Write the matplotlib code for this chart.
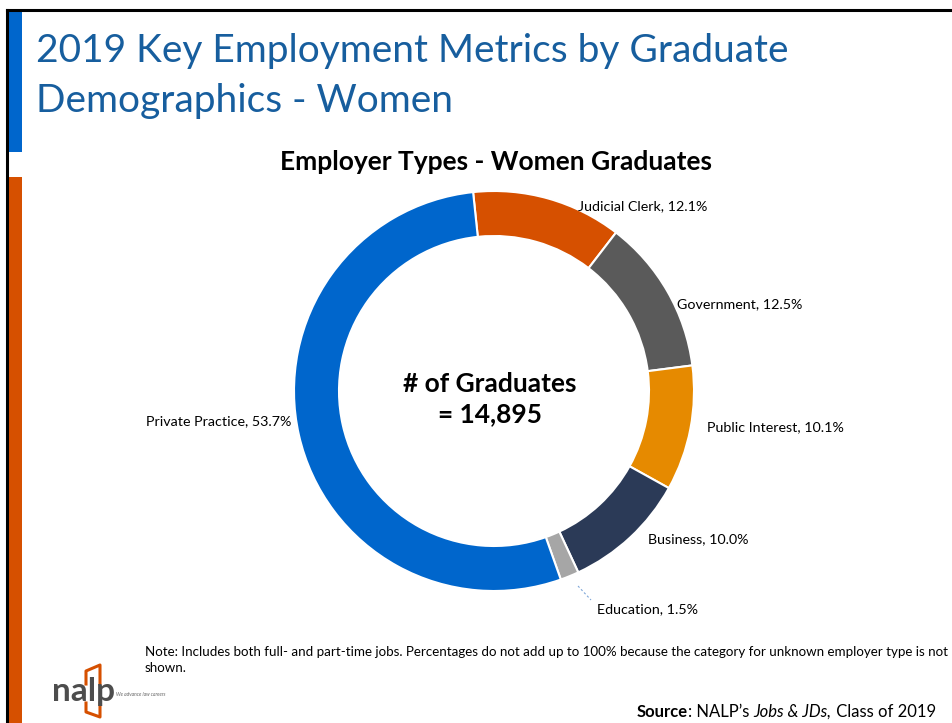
import matplotlib
matplotlib.use("Agg")
import matplotlib.pyplot as plt
from matplotlib.lines import Line2D
from matplotlib.patches import Rectangle

plt.rcParams["font.family"] = ["Lato", "DejaVu Sans"]

# data
categories = ["Judicial Clerk", "Government", "Public Interest", "Business",
              "Education", "Private Practice"]
shares = [12.1, 12.5, 10.1, 10.0, 1.5, 53.7]
colors = ["#D65000", "#5A5A5A", "#E68A00", "#2B3A57", "#A6A6A6", "#0066CC"]
total_grads = 14895

W, H = 953, 723


def px(x, y):
    return x / W, 1 - y / H


fig = plt.figure(figsize=(W / 100, H / 100), dpi=100)

# slide frame + side bars
fig.add_artist(Line2D([px(7, 0)[0], 1], [px(0, 10)[1]] * 2, color="black", lw=2.2))
fig.add_artist(Line2D([px(7, 0)[0]] * 2, [px(0, 10)[1], 0], color="black", lw=2.2))
fig.add_artist(Rectangle(px(9, 152), 13 / W, 141 / H, color="#0066CC", lw=0))
fig.add_artist(Rectangle(px(9, 723), 13 / W, 546 / H, color="#D65000", lw=0))

# slide title
fig.text(*px(36, 51), "2019 Key Employment Metrics by Graduate", fontsize=28,
         color="#175E9E", va="center", ha="left")
fig.text(*px(36, 101), "Demographics - Women", fontsize=28,
         color="#175E9E", va="center", ha="left")

# donut
cx, cy, r = 494, 391, 200
ax = fig.add_axes([(cx - r) / W, 1 - (cy + r) / H, 2 * r / W, 2 * r / H])
wedges, _ = ax.pie(shares, colors=colors, startangle=96, counterclock=False,
                   radius=1, wedgeprops=dict(width=0.225, edgecolor="white", linewidth=1.5))
ax.set_xlim(-1, 1)
ax.set_ylim(-1, 1)
ax.set_aspect("equal")
ax.axis("off")

ax.text(-0.02, -0.04, "# of Graduates\n= " + f"{total_grads:,}", ha="center", va="center",
        fontsize=19, fontweight="bold", linespacing=1.3)

fig.text(*px(496, 162), "Employer Types - Women Graduates", fontsize=19,
         fontweight="bold", ha="center", va="center")

# data labels
label_pos = {
    "Judicial Clerk": (578, 206, "left"),
    "Government": (677, 304, "left"),
    "Public Interest": (707, 427, "left"),
    "Business": (648, 539, "left"),
    "Education": (597, 609, "left"),
    "Private Practice": (291, 421, "right"),
}
for cat, val in zip(categories, shares):
    x, y, ha = label_pos[cat]
    fig.text(*px(x, y), f"{cat}, {val}%", fontsize=10.3, ha=ha, va="center")

# leader line for Education
fig.add_artist(Line2D([px(578, 0)[0], px(591, 0)[0]], [px(0, 586)[1], px(0, 600)[1]],
                      color="#7FA7D9", lw=0.8, ls=(0, (2, 2))))

# note
fig.text(*px(145, 652), "Note: Includes both full- and part-time jobs. Percentages do not add up to 100% "
         "because the category for unknown employer type is not", fontsize=9.6, va="center")
fig.text(*px(145, 668), "shown.", fontsize=9.6, va="center")

# source line, built from pieces
renderer = fig.canvas.get_renderer()
pieces = [("Source", "bold", "normal"), (": NALP\u2019s ", "normal", "normal"),
          ("Jobs & JDs,", "normal", "italic"), (" Class of 2019", "normal", "normal")]
x0 = 637
for txt, wgt, sty in pieces:
    t = fig.text(*px(x0, 712), txt, fontsize=12, fontweight=wgt, style=sty, va="center")
    x0 += t.get_window_extent(renderer).width

# nalp logo
fig.add_artist(Line2D([px(86, 0)[0], px(86, 0)[0], px(100, 0)[0], px(100, 0)[0]],
                      [px(0, 684)[1], px(0, 671)[1], px(0, 665)[1], px(0, 684)[1]],
                      color="#D65000", lw=2.2))
fig.add_artist(Line2D([px(86, 0)[0], px(86, 0)[0], px(100, 0)[0], px(100, 0)[0]],
                      [px(0, 703)[1], px(0, 712)[1], px(0, 717)[1], px(0, 703)[1]],
                      color="#D65000", lw=2.2))
fig.text(*px(52, 692), "nalp", fontsize=24, fontweight="bold", color="#4D4D4D", va="center")
fig.text(*px(116, 694), "We advance law careers", fontsize=3.5, style="italic",
         color="#666666", va="center")

fig.savefig("out.png", dpi=100)
